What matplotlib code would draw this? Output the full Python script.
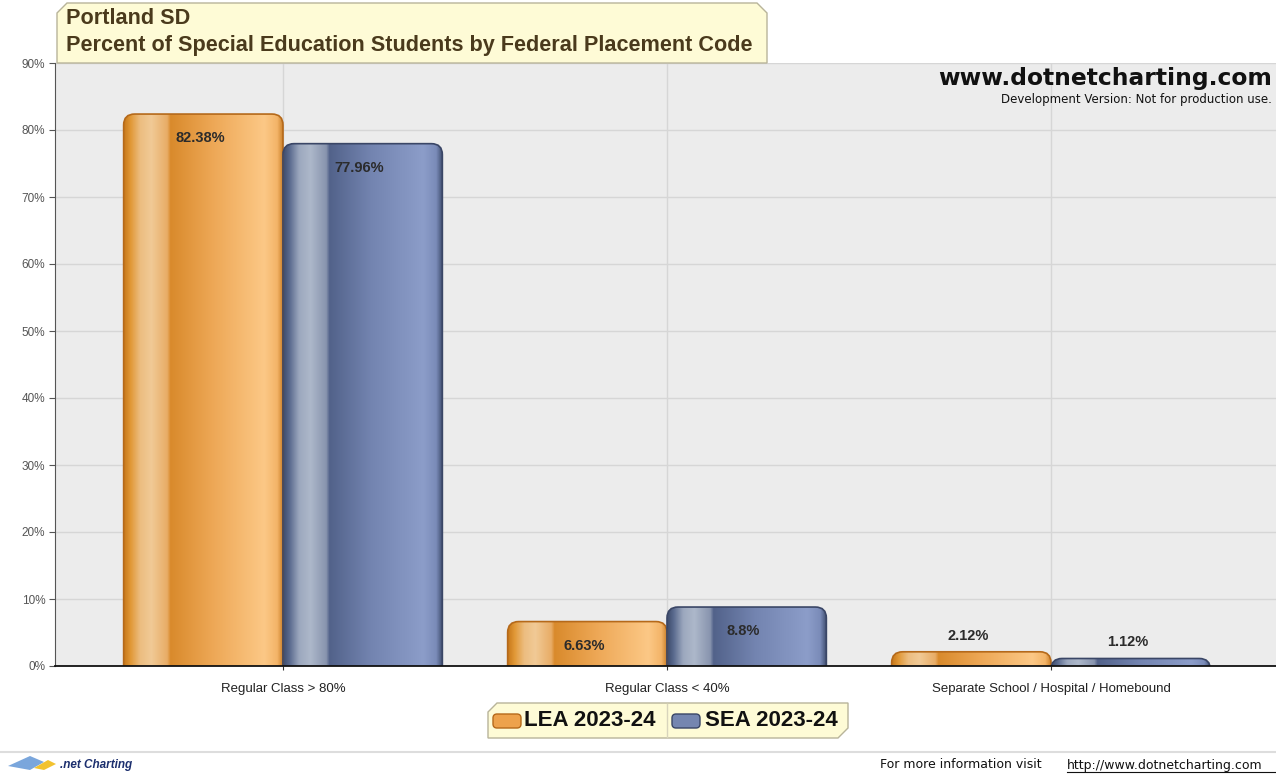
import numpy as np
import matplotlib.pyplot as plt
from matplotlib.patches import FancyBboxPatch, Polygon
from matplotlib.colors import LinearSegmentedColormap
from matplotlib.lines import Line2D

categories = ['Regular Class > 80%', 'Regular Class < 40%', 'Separate School / Hospital / Homebound']
lea = [82.38, 6.63, 2.12]
sea = [77.96, 8.8, 1.12]
series_names = ['LEA 2023-24', 'SEA 2023-24']
yticks = [0, 10, 20, 30, 40, 50, 60, 70, 80, 90]

W, H = 1276, 775
fig = plt.figure(figsize=(W / 100, H / 100), dpi=100)
fig.patch.set_facecolor('white')
plt.rcParams['font.family'] = ['Liberation Sans', 'DejaVu Sans']

# plot area in pixel coordinates
left, right, top, bottom = 55, 1276, 63, 666
ax = fig.add_axes([left / W, (H - bottom) / H, (right - left) / W, (bottom - top) / H])
ax.set_facecolor('#ececec')

# horizontal gradient stops for the glassy bars
orange = LinearSegmentedColormap.from_list('orange', [
    (0.0, '#c97a1c'), (0.04, '#e19836'), (0.10, '#ecbd80'), (0.17, '#f1ca96'),
    (0.27, '#e8ac66'), (0.29, '#d98a2c'), (0.55, '#eda755'), (0.88, '#fcc886'),
    (0.96, '#f3b468'), (1.0, '#c67a22')])
blue = LinearSegmentedColormap.from_list('blue', [
    (0.0, '#3e4c6c'), (0.04, '#5a6a8e'), (0.10, '#9ca8be'), (0.17, '#adb8ca'),
    (0.27, '#8894ae'), (0.29, '#52628a'), (0.55, '#7384b0'), (0.88, '#8c9dc9'),
    (0.96, '#7a8bb8'), (1.0, '#3e4c6c')])

bw = 0.415
px_x = 1 / 384.0          # x data units per pixel
px_y = 10 / 67.0          # y data units per pixel
radius = 11 * px_x
grad = np.linspace(0, 1, 256).reshape(1, -1)


def glass_bar(x0, value, cmap, edge):
    base = -12 * px_y
    patch = FancyBboxPatch((x0, base), bw, value - base,
                           boxstyle='round,pad=0,rounding_size=%f' % radius,
                           mutation_aspect=px_y / px_x,
                           facecolor='none', edgecolor=edge, linewidth=1.2, zorder=4)
    ax.add_patch(patch)
    im = ax.imshow(grad, cmap=cmap, extent=(x0, x0 + bw, base, value),
                   aspect='auto', zorder=3, interpolation='bilinear')
    im.set_clip_path(patch)


for i in range(len(categories)):
    glass_bar(i - bw, lea[i], orange, '#b5691a')
    glass_bar(i, sea[i], blue, '#3a4666')
    for x, v in [(i - bw / 2, lea[i]), (i + bw / 2, sea[i])]:
        # labels sit inside tall bars and above short ones
        y = v - 24 * px_y if v > 5 else v + 16 * px_y
        ax.text(x - 3 * px_x, y, f'{v:g}%', ha='center', va='center',
                fontsize=10.5, fontweight='bold', color='#2b2b2b', zorder=6)

ax.set_xlim((left - 283) / 384.0, (right - 283) / 384.0)
ax.set_ylim(0, 90)
ax.set_yticks(yticks)
ax.set_yticklabels([f'{t}%' for t in yticks], fontsize=8.5, color='#555555')
ax.set_xticks(range(len(categories)))
ax.set_xticklabels(categories, fontsize=9.5, color='#222222')
ax.tick_params(axis='y', length=4, color='#555555', pad=3)
ax.tick_params(axis='x', length=3, color='#333333', pad=9)
ax.grid(True, color='#d6d6d6', linewidth=1, zorder=0)
ax.set_axisbelow(True)
for s in ['top', 'right']:
    ax.spines[s].set_visible(False)
ax.spines['left'].set_color('#555555')
ax.spines['bottom'].set_color('#111111')
ax.spines['bottom'].set_linewidth(1.3)
ax.spines['bottom'].set_zorder(7)


def fy(y):
    return H - y


# title box with chamfered top corners
title_box = Polygon([(57, fy(63)), (57, fy(13)), (67, fy(3)), (757, fy(3)),
                     (767, fy(13)), (767, fy(63))], closed=True, transform=None,
                    facecolor='#fefbd6', edgecolor='#b8b49a', linewidth=1, zorder=10)
fig.patches.append(title_box)
fig.text(66 / W, fy(18) / H, 'Portland SD', fontsize=15.6, fontweight='bold',
         color='#4a3a1c', va='center', ha='left', zorder=11)
fig.text(66 / W, fy(45) / H, 'Percent of Special Education Students by Federal Placement Code',
         fontsize=15.6, fontweight='bold', color='#4a3a1c', va='center', ha='left', zorder=11)

# watermark
fig.text(1272 / W, fy(78) / H, 'www.dotnetcharting.com', fontsize=16.8, fontweight='bold',
         family='DejaVu Sans', color='#111111', ha='right', va='center', zorder=11)
fig.text(1272 / W, fy(99) / H, 'Development Version: Not for production use.', fontsize=8.5,
         family='DejaVu Sans', color='#111111', ha='right', va='center', zorder=11)

# legend box
legend_box = Polygon([(488, fy(738)), (488, fy(712)), (497, fy(703)), (848, fy(703)),
                      (848, fy(728)), (838, fy(738))], closed=True, transform=None,
                     facecolor='#fefbd6', edgecolor='#b8b49a', linewidth=1, zorder=10)
fig.patches.append(legend_box)
fig.lines.append(Line2D([667, 667], [fy(704), fy(737)], transform=None,
                        color='#d8d4bc', linewidth=1, zorder=11))
for (sx, tx), name, face, edge in zip([(493, 524), (672, 705)], series_names,
                                      ['#eda24c', '#7586b0'], ['#b5691a', '#3a4666']):
    sw = FancyBboxPatch((sx, fy(728)), 28, 14, boxstyle='round,pad=0,rounding_size=4',
                        transform=None, facecolor=face, edgecolor=edge, linewidth=1, zorder=11)
    fig.patches.append(sw)
    fig.text(tx / W, fy(720) / H, name, fontsize=16, fontweight='bold', color='#111111',
             ha='left', va='center', zorder=12)

# footer
fig.lines.append(Line2D([0, W], [fy(752), fy(752)], transform=None, color='#dddddd',
                        linewidth=1.5))
fig.patches.append(Polygon([(8, fy(766)), (30, fy(756)), (44, fy(762)), (30, fy(770))],
                           closed=True, transform=None, facecolor='#7aa6dc',
                           edgecolor='none'))
fig.patches.append(Polygon([(34, fy(768)), (48, fy(760)), (56, fy(764)), (44, fy(770))],
                           closed=True, transform=None, facecolor='#f2c230',
                           edgecolor='none'))
fig.text(60 / W, fy(765) / H, '.net Charting', fontsize=8.5, fontweight='bold',
         style='italic', color='#1c2f6e', ha='left', va='center')
fig.text(880 / W, fy(765) / H, 'For more information visit', fontsize=9,
         family='DejaVu Sans', color='#111111', ha='left', va='center')
fig.text(1067 / W, fy(765) / H, 'http://www.dotnetcharting.com', fontsize=9,
         family='DejaVu Sans', color='#111111', ha='left', va='center')
fig.lines.append(Line2D([1067, W], [fy(772), fy(772)], transform=None, color='#111111',
                        linewidth=0.8))

fig.savefig('out.png', dpi=100)
